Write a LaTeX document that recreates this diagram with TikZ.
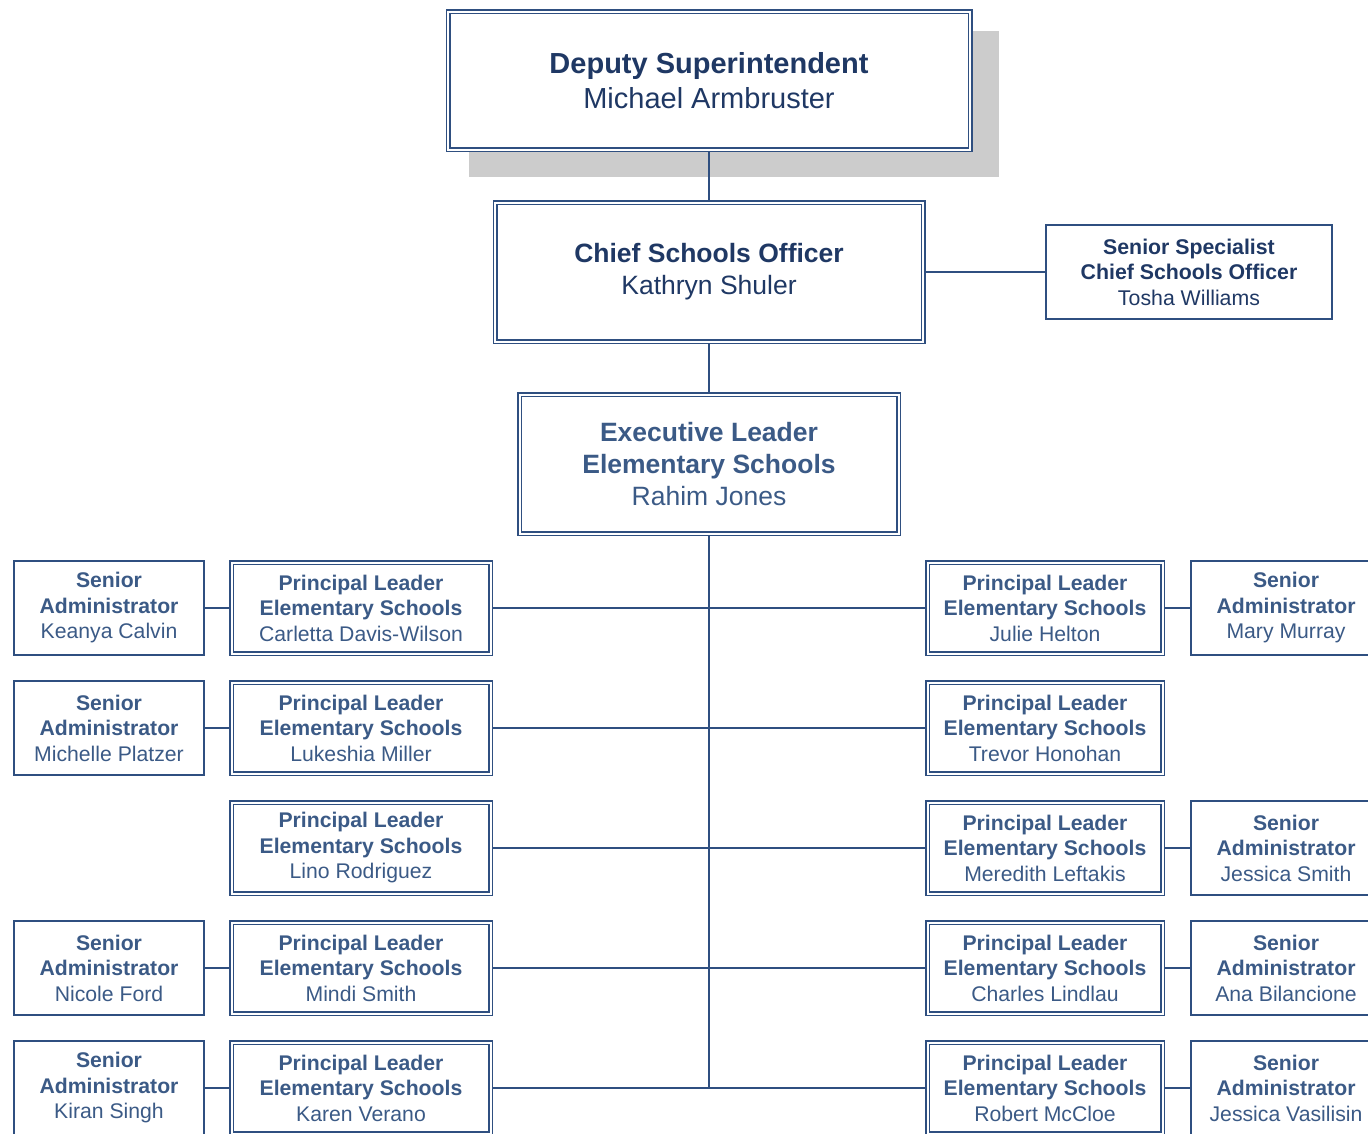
\documentclass[tikz,border=0pt]{standalone}
\usepackage{fontspec}
\setmainfont{Liberation Sans}
\usetikzlibrary{backgrounds}
\definecolor{boxblue}{HTML}{2F4F80}
\definecolor{navy}{HTML}{1F3864}
\definecolor{slateblue}{HTML}{3B5A86}
\definecolor{shadowgray}{HTML}{CCCCCC}

\begin{document}
\begin{tikzpicture}[x=1pt, y=-1pt,
	dbox/.style={draw=boxblue, line width=1.5pt, double=white, double distance=2pt,
		fill=white, inner sep=0pt, outer sep=2.5pt, align=center},
	sbox/.style={draw=boxblue, line width=2pt, fill=white, inner sep=0pt, align=center},
	rowtext/.style={font=\fontsize{21.2}{25.5}\selectfont, text=slateblue},
	pleft/.style={dbox, rowtext, minimum width=259pt, minimum height=91pt},
	pright/.style={dbox, rowtext, minimum width=235pt, minimum height=91pt},
	senior/.style={sbox, rowtext, minimum width=190pt, minimum height=94pt},
	link/.style={draw=boxblue, line width=1.8pt}]
	\useasboundingbox (0,0) rectangle (1368,1133);

	% top of the chart
	\node [dbox, minimum width=522pt, minimum height=138pt, text=navy,
		font=\fontsize{29}{35}\selectfont] (dep) at (709,80.5)
		{\textbf{Deputy Superintendent}\\Michael Armbruster};
	\node [dbox, minimum width=428pt, minimum height=139pt, text=navy,
		font=\fontsize{26.5}{32}\selectfont] (cso) at (709,272)
		{\textbf{Chief Schools Officer}\\Kathryn Shuler};
	\node [sbox, minimum width=286pt, minimum height=94pt, text=navy,
		font=\fontsize{21.3}{25.5}\selectfont] (spec) at (1189,272)
		{\textbf{Senior Specialist}\\\textbf{Chief Schools Officer}\\Tosha Williams};
	\node [dbox, minimum width=379pt, minimum height=139pt, text=slateblue,
		font=\fontsize{26.5}{32}\selectfont] (exec) at (709,464)
		{\textbf{Executive Leader}\\\textbf{Elementary Schools}\\Rahim Jones};

	\begin{scope}[on background layer]
		\fill [shadowgray] ([shift={(23,22)}]dep.north west) rectangle ([shift={(26,25)}]dep.south east);
	\end{scope}

	% left side
	\node [senior] (sl1) at (109,608) {\textbf{Senior}\\\textbf{Administrator}\\Keanya Calvin};
	\node [pleft] (pl1) at (361,608) {\textbf{Principal Leader}\\\textbf{Elementary Schools}\\Carletta Davis-Wilson};
	\node [senior] (sl2) at (109,728) {\textbf{Senior}\\\textbf{Administrator}\\Michelle Platzer};
	\node [pleft] (pl2) at (361,728) {\textbf{Principal Leader}\\\textbf{Elementary Schools}\\Lukeshia Miller};
	\node [pleft] (pl3) at (361,848) {\textbf{Principal Leader}\\\textbf{Elementary Schools}\\Lino Rodriguez};
	\node [senior] (sl4) at (109,968) {\textbf{Senior}\\\textbf{Administrator}\\Nicole Ford};
	\node [pleft] (pl4) at (361,968) {\textbf{Principal Leader}\\\textbf{Elementary Schools}\\Mindi Smith};
	\node [senior] (sl5) at (109,1088) {\textbf{Senior}\\\textbf{Administrator}\\Kiran Singh};
	\node [pleft] (pl5) at (361,1088) {\textbf{Principal Leader}\\\textbf{Elementary Schools}\\Karen Verano};

	% right side
	\node [pright] (pr1) at (1045,608) {\textbf{Principal Leader}\\\textbf{Elementary Schools}\\Julie Helton};
	\node [senior] (sr1) at (1286,608) {\textbf{Senior}\\\textbf{Administrator}\\Mary Murray};
	\node [pright] (pr2) at (1045,728) {\textbf{Principal Leader}\\\textbf{Elementary Schools}\\Trevor Honohan};
	\node [pright] (pr3) at (1045,848) {\textbf{Principal Leader}\\\textbf{Elementary Schools}\\Meredith Leftakis};
	\node [senior] (sr3) at (1286,848) {\textbf{Senior}\\\textbf{Administrator}\\Jessica Smith};
	\node [pright] (pr4) at (1045,968) {\textbf{Principal Leader}\\\textbf{Elementary Schools}\\Charles Lindlau};
	\node [senior] (sr4) at (1286,968) {\textbf{Senior}\\\textbf{Administrator}\\Ana Bilancione};
	\node [pright] (pr5) at (1045,1088) {\textbf{Principal Leader}\\\textbf{Elementary Schools}\\Robert McCloe};
	\node [senior] (sr5) at (1286,1088) {\textbf{Senior}\\\textbf{Administrator}\\Jessica Vasilisin};

	% connectors
	\coordinate (trunk) at (exec.south |- pl5.east);
	\path [link] (dep) -- (cso);
	\path [link] (cso) -- (exec);
	\path [link] (cso.east) -- (spec.west);
	\path [link] (exec.south) -- (trunk);
	\path [link] (pl1.east) -- (pr1.west);
	\path [link] (pl2.east) -- (pr2.west);
	\path [link] (pl3.east) -- (pr3.west);
	\path [link] (pl4.east) -- (pr4.west);
	\path [link] (pl5.east) -- (pr5.west);
	\path [link] (sl1) -- (pl1);
	\path [link] (sl2) -- (pl2);
	\path [link] (sl4) -- (pl4);
	\path [link] (sl5) -- (pl5);
	\path [link] (pr1) -- (sr1);
	\path [link] (pr3) -- (sr3);
	\path [link] (pr4) -- (sr4);
	\path [link] (pr5) -- (sr5);
\end{tikzpicture}
\end{document}
